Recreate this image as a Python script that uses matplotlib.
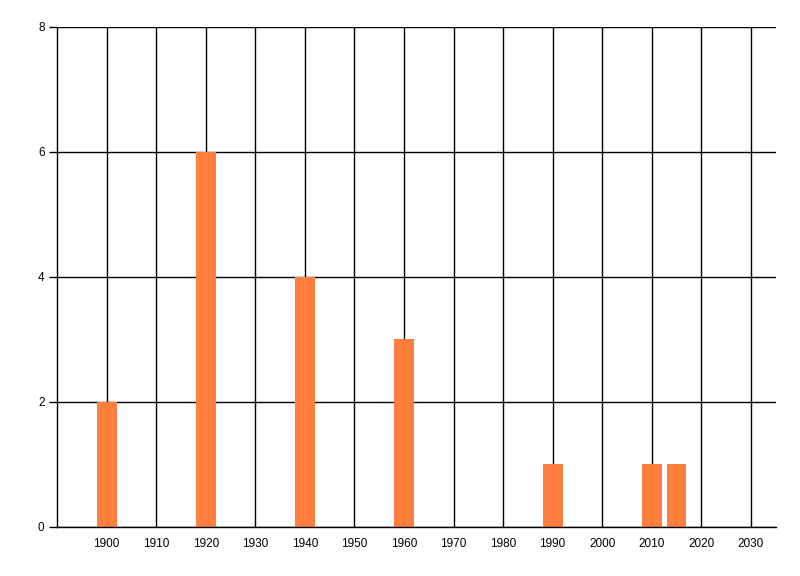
import matplotlib
matplotlib.use("Agg")
import matplotlib.pyplot as plt

years = [1900, 1920, 1940, 1960, 1990, 2010, 2015]
counts = [2, 6, 4, 3, 1, 1, 1]
x_ticks = list(range(1900, 2031, 10))
y_ticks = [0, 2, 4, 6, 8]

plt.rcParams["font.family"] = ["Liberation Sans", "DejaVu Sans"]

fig = plt.figure(figsize=(8, 5.76), dpi=100)
ax = fig.add_axes([0.0713, 0.0851, 0.8983, 0.8685])

ax.bar(years, counts, width=4, color="#FF7F40", zorder=3)

ax.set_xlim(1890, 2035)
ax.set_ylim(0, 8)
ax.set_xticks(x_ticks)
ax.set_yticks(y_ticks)
ax.grid(True, color="black", linewidth=1)
ax.set_axisbelow(False)

for side in ["top", "right"]:
    ax.spines[side].set_visible(False)
for side in ["left", "bottom"]:
    ax.spines[side].set_linewidth(1)
    ax.spines[side].set_zorder(4)

ax.tick_params(axis="x", length=0, pad=8, labelsize=8.5)
ax.tick_params(axis="y", length=6, width=1, pad=3, labelsize=8.5)

fig.savefig("out.png", dpi=100)
